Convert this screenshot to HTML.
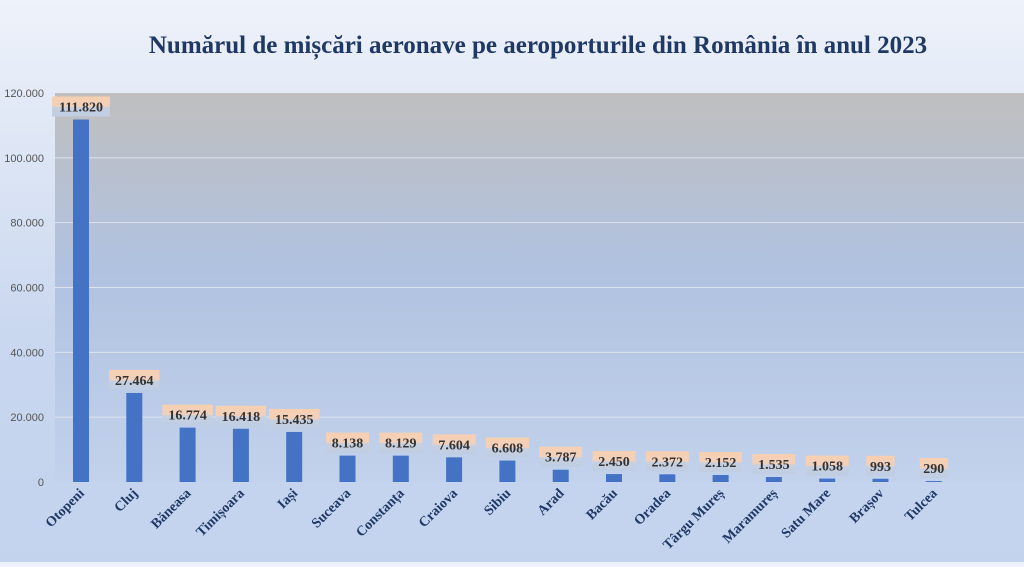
<!DOCTYPE html>
<html><head><meta charset="utf-8"><style>
body{margin:0;width:1024px;height:562px;overflow:hidden;background:linear-gradient(#eef2fa,#c9d7ef 60%,#c3d3ee);font-family:"Liberation Serif",serif}
</style></head><body>
<svg width="1024" height="562">
<defs>
<linearGradient id="pg" x1="0" y1="0" x2="0" y2="1"><stop offset="0" stop-color="#bfbfbf"/><stop offset="0.45" stop-color="#b0c2e0"/><stop offset="1" stop-color="#c2d2ec"/></linearGradient>
<linearGradient id="lg" x1="0" y1="0" x2="0" y2="1"><stop offset="0" stop-color="#f8cfb0"/><stop offset="0.5" stop-color="#f0d0bc"/><stop offset="0.55" stop-color="#c6d0e0"/><stop offset="1" stop-color="#c0cde2"/></linearGradient>
</defs>
<text x="538" y="53" text-anchor="middle" font-size="25" font-weight="bold" fill="#1f3864">Numărul de mișcări aeronave pe aeroporturile din România în anul 2023</text>
<rect x="55" y="93" width="969" height="389" fill="url(#pg)"/>
<g id="g"></g>
</svg>
<script>
const categories=["Otopeni","Cluj","Băneasa","Timișoara","Iași","Suceava","Constanța","Craiova","Sibiu","Arad","Bacău","Oradea","Târgu Mureș","Maramureș","Satu Mare","Brașov","Tulcea"];
const values=[111820,27464,16774,16418,15435,8138,8129,7604,6608,3787,2450,2372,2152,1535,1058,993,290];
const valueLabels=["111.820","27.464","16.774","16.418","15.435","8.138","8.129","7.604","6.608","3.787","2.450","2.372","2.152","1.535","1.058","993","290"];
const ticks=[0,20000,40000,60000,80000,100000,120000];
const tickLabels=["0","20.000","40.000","60.000","80.000","100.000","120.000"];
const NS="http://www.w3.org/2000/svg",g=document.getElementById('g');
const y=v=>482-v/120000*389, x=i=>81+i*53.3;
function mk(t,a,txt){const e=document.createElementNS(NS,t);for(const k in a)e.setAttribute(k,a[k]);if(txt!=null)e.textContent=txt;g.appendChild(e);return e;}
ticks.forEach((t,i)=>{
 if(t>0&&t<120000){const l=mk('line',{x1:55,x2:1024,y1:y(t),y2:y(t),stroke:'#dde4f0','stroke-width':1});
 
 }
 const e=mk('text',{x:44,y:y(t)+4,'text-anchor':'end','font-size':11,fill:'#555','font-family':'Liberation Sans, sans-serif'},tickLabels[i]);
 
 
});
values.forEach((v,i)=>{
 const b=mk('rect',{x:x(i)-8,y:y(v),width:16,height:482-y(v),fill:'#4472c4'});
 
 
 const w=valueLabels[i].length*7.4+6, ly=Math.min(y(v)-8,474);
 const r=mk('rect',{x:x(i)-w/2,y:ly-15,width:w,height:20,fill:'url(#lg)'});
 
 
 const t=mk('text',{x:x(i),y:ly,'text-anchor':'middle','font-size':14,'font-weight':'bold',fill:'#333'},valueLabels[i]);
 
 
 const c=mk('text',{transform:`translate(${x(i)+4},${494}) rotate(-45)`,'text-anchor':'end','font-size':14,'font-weight':'bold',fill:'#1f3864'},categories[i]);
 
 
});
</script>
</body></html>
